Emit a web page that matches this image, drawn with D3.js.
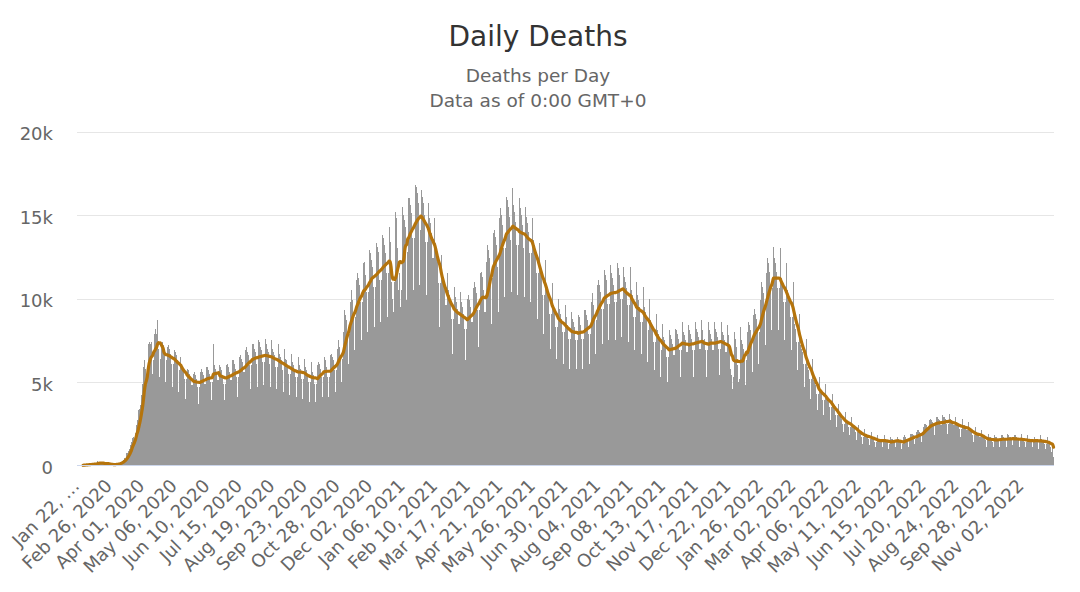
<!DOCTYPE html>
<html><head><meta charset="utf-8">
<script src="https://cdn.jsdelivr.net/npm/d3@7"></script>
<style>body{margin:0;background:#fff} svg{display:block;font-family:"DejaVu Sans",sans-serif}</style>
</head><body><svg id="c" width="1080" height="592"></svg>
<script>
const chartTitle = "Daily Deaths";
const subtitleLines = ["Deaths per Day", "Data as of 0:00 GMT+0"];
const startDate = "2020-01-22";
const tickLabels = ["Jan 22, 2020","Feb 26, 2020","Apr 01, 2020","May 06, 2020","Jun 10, 2020","Jul 15, 2020","Aug 19, 2020","Sep 23, 2020","Oct 28, 2020","Dec 02, 2020","Jan 06, 2021","Feb 10, 2021","Mar 17, 2021","Apr 21, 2021","May 26, 2021","Jun 30, 2021","Aug 04, 2021","Sep 08, 2021","Oct 13, 2021","Nov 17, 2021","Dec 22, 2021","Jan 26, 2022","Mar 02, 2022","Apr 06, 2022","May 11, 2022","Jun 15, 2022","Jul 20, 2022","Aug 24, 2022","Sep 28, 2022","Nov 02, 2022"];
const yTicks = [0, 5000, 10000, 15000, 20000];
const dailyDeaths = [
0,1,8,16,14,26,26,
38,43,46,45,57,64,66,
73,73,86,89,97,108,97,
121,254,143,143,142,106,98,
115,118,109,97,150,71,52,
29,44,37,58,67,73,74,
88,100,105,96,228,210,273,
338,350,448,410,740,740,860,
1010,1200,1380,1650,1690,1610,1930,
2400,2700,2600,3300,3400,3600,4200,
4900,5900,6300,5800,4800,5200,7300,
7400,7300,7400,6300,5500,6300,7900,
8200,7900,8700,7000,5300,6400,7200,
7400,7200,7000,6300,5000,6300,7100,
7200,7000,6700,6100,4700,6100,6900,
6800,6600,6300,5700,4400,5700,6500,
6100,5900,5700,5200,4000,5200,5800,
5700,5500,5300,4800,3700,4800,5500,
5600,5400,5200,4700,3700,4700,5600,
5800,5600,5400,4900,3800,4900,5900,
5900,5700,5500,5000,3900,5000,7300,
6000,5800,5600,5100,4000,5100,6000,
5900,5700,5400,4900,3900,4900,6000,
6100,5900,5600,5100,4000,5100,6300,
6300,6100,5800,5300,4100,5300,6500,
6600,6400,6200,5600,4300,5600,6900,
7100,6800,6600,6000,4600,6000,7300,
7300,7000,6800,6100,4700,6100,7500,
7400,7100,6900,6200,4800,6200,7600,
7300,7000,6800,6100,4700,6100,7500,
7000,6800,6600,5900,4600,5900,7300,
6700,6500,6300,5700,4400,5700,7000,
6400,6300,6000,5500,4200,5500,6700,
6200,6000,5800,5300,4100,5300,6500,
6200,6000,5800,5200,4000,5200,6400,
5900,5700,5500,5000,3800,5000,6200,
5800,5600,5400,4900,3800,4900,6000,
6200,6100,5800,5300,4100,5300,6500,
6300,6100,5900,5300,4100,5300,6600,
6700,6500,6300,5700,4400,5700,7000,
7500,7400,7100,6400,5000,6400,8000,
9300,9000,8700,7900,6100,7900,9800,
10500,10200,9900,8900,6900,8900,11100,
11500,11200,10800,9800,7500,9800,12100,
12200,11400,11400,10400,8000,10400,12900,
12700,12300,11900,10700,8300,10700,13300,
13100,12800,12300,11100,8600,11100,13800,
13600,13200,12700,11500,8900,11500,14300,
13400,11000,9000,10000,9200,11000,15200,
14800,13000,10500,11500,9500,10500,15500,
15000,14700,14300,12800,9900,12800,16000,
16000,15600,15100,13600,10500,13600,16800,
16700,16300,15700,14100,10800,14100,16500,
16100,15700,15000,13400,10200,13400,15700,
14800,14500,13900,12400,9500,12400,14800,
13300,12700,12200,10900,8300,10900,12600,
11500,11200,10700,9600,7300,9600,11500,
10500,10200,9800,8800,6700,8800,10700,
10100,9800,9400,8500,6500,8500,10400,
9800,9500,9100,8200,6300,8200,10000,
10200,9900,9500,8600,6600,8600,10600,
11000,10700,10300,9300,7100,9300,11500,
11600,11300,10500,9200,7100,9200,12200,
13200,12900,12400,11200,8500,11200,13900,
14100,13700,13200,11900,9200,11900,14800,
15400,15000,14400,13000,10100,13000,16100,
15900,15500,14900,13500,10400,13500,16600,
15600,15200,14600,13200,10200,13200,16000,
15400,15000,14400,13000,10100,13000,15500,
14900,14500,14000,12700,9800,12700,14800,
13500,13200,12700,11500,8800,11500,13300,
12100,11800,11300,10200,7900,10200,12300,
10800,10400,10100,9100,7000,9100,10900,
9800,9600,9200,8300,6400,8300,10000,
9400,9100,8800,8000,6100,8000,9600,
8900,8700,8400,7600,5800,7600,9200,
8800,8600,8300,7500,5800,7500,9000,
8900,8700,8400,7600,5800,7600,9300,
9300,9000,8700,7900,6100,7900,9800,
10300,10000,9600,8700,6700,8700,10800,
11100,10800,10400,9400,7300,9400,11700,
11400,11100,10700,9700,7500,9700,12000,
11500,11200,10800,9800,7500,9800,12100,
11800,11400,11000,10000,7700,10000,11900,
11300,11000,10600,9600,7400,9600,11900,
10500,10200,9900,8900,6900,8900,11000,
10200,9900,9500,8600,6700,8600,10700,
9500,9200,8900,8100,6200,8100,10000,
8700,8500,8200,7400,5700,7400,9100,
8100,7900,7600,6900,5300,6900,8500,
7700,7500,7200,6500,5000,6500,8100,
7800,7600,7300,6600,5100,6600,8200,
8100,7900,7600,6900,5300,6900,8600,
8000,7800,7500,6800,5300,6800,8400,
8100,7900,7600,6900,5300,6900,8600,
8200,8000,7700,7000,5400,7000,8700,
8100,7500,7600,6900,5300,6900,8600,
8100,7900,7600,6900,5300,6900,8600,
8200,8000,7700,7000,5400,7000,8600,
8000,7800,7500,6800,5200,6800,8400,
7800,7000,5800,5400,4600,5300,8000,
7600,7100,6000,5000,4600,5200,8300,
7500,7300,7000,6300,4800,6300,8000,
8600,8400,8100,7300,5600,7300,9000,
9400,9100,8800,8000,6100,8000,9900,
11000,10700,10300,9300,7200,9300,11500,
12400,12100,11600,10600,8100,10600,13100,
12400,12100,11600,10600,8100,10600,13000,
11500,11200,10800,9800,7500,9800,12100,
10500,10200,9900,8900,6900,8900,11000,
8700,8500,8200,7400,5700,7400,9100,
7200,7000,6800,6100,4700,6100,7600,
6100,5900,5700,5200,4000,5200,6400,
5100,5000,4800,4300,3300,4300,5300,
4600,4500,4300,3900,3000,3900,4900,
4100,4000,3800,3500,2700,3500,4300,
3500,3400,3300,3000,2300,3000,3700,
3000,2900,2800,2500,2000,2500,3200,
2700,2600,2500,2300,1800,2300,2900,
2300,2300,2200,2000,1500,2000,2400,
2000,2000,1900,1700,1300,1700,2200,
1900,1800,1700,1600,1200,1600,2000,
1700,1700,1600,1400,1100,1400,1800,
1600,1600,1500,1400,1100,1400,1800,
1600,1500,1500,1300,1000,1300,1700,
1600,1600,1500,1400,1100,1400,1700,
1600,1500,1500,1300,1000,1300,1700,
1800,1700,1600,1500,1100,1500,1900,
1900,1900,1800,1600,1300,1600,2000,
2100,2100,2000,1800,1400,1800,2300,
2500,2500,2400,2200,1700,2200,2700,
2800,2700,2600,2400,1800,2400,2900,
2900,2800,2700,2400,1900,2400,3000,
2900,2900,2800,2500,1900,2500,3100,
2800,2700,2600,2400,1800,2400,2900,
2600,2500,2400,2200,1700,2200,2800,
2400,2400,2300,2100,1600,2100,2600,
2100,2100,2000,1800,1400,1800,2300,
2000,1900,1900,1700,1300,1700,2100,
1800,1700,1600,1500,1100,1500,1900,
1700,1700,1600,1400,1100,1400,1800,
1700,1700,1600,1500,1100,1500,1800,
1800,1700,1600,1500,1100,1500,1900,
1800,1700,1700,1500,1200,1500,1800,
1800,1700,1600,1500,1100,1500,1900,
1700,1600,1600,1400,1100,1400,1800,
1600,1600,1500,1400,1100,1400,1700,
1700,1600,1500,1400,1000,1400,1800,
1600,1500,1500,1300,1000,1300,1700,
1500,1400,1300,1100,800,1100,500
];

const svg = d3.select("#c");
const parse = d3.timeParse("%Y-%m-%d"), fmt = d3.timeFormat("%b %d, %Y");
const start = parse(startDate);
const categories = dailyDeaths.map((_, i) => fmt(d3.timeDay.offset(start, i)));
const rows = categories.map((c, i) => ({ c, v: dailyDeaths[i] }));

const x = d3.scaleBand().domain(categories).range([77, 1054]).padding(0);
const y = d3.scaleLinear().domain([0, 20000]).range([465.5, 131.5]);
const bw = x.bandwidth();

// title
svg.append("text").attr("x", 538).attr("y", 46).attr("text-anchor", "middle")
  .attr("font-size", 28).attr("fill", "#333").text(chartTitle);
subtitleLines.forEach((t, i) => {
  svg.append("text").attr("x", 538).attr("y", 82 + i * 25).attr("text-anchor", "middle")
    .attr("font-size", 18.5).attr("fill", "#666").text(t);
});

// grid
svg.append("g").selectAll("line").data(yTicks.filter(v => v > 0)).join("line")
  .attr("x1", 77).attr("x2", 1054)
  .attr("y1", d => Math.round(y(d)) + 0.5).attr("y2", d => Math.round(y(d)) + 0.5)
  .attr("stroke", "#e6e6e6").attr("stroke-width", 1);

// y labels
svg.append("g").selectAll("text").data(yTicks).join("text")
  .attr("x", 53).attr("y", d => y(d) + 8.5).attr("text-anchor", "end")
  .attr("font-size", 18).attr("fill", "#666")
  .text(d => d === 0 ? "0" : (d / 1000) + "k");

// bars
svg.append("g").attr("shape-rendering", "crispEdges")
  .selectAll("rect").data(rows).join("rect")
  .attr("x", d => x(d.c)).attr("width", Math.max(1, bw))
  .attr("y", d => y(d.v)).attr("height", d => y(0) - y(d.v))
  .attr("fill", "#999999");

// moving average (7-day trailing)
const ma = [];
for (let i = 6; i < dailyDeaths.length; i++) {
  ma.push({ c: categories[i], v: d3.mean(dailyDeaths.slice(i - 6, i + 1)) });
}
svg.append("path").datum(ma)
  .attr("d", d3.line().x(d => x(d.c) + bw / 2).y(d => y(d.v)).curve(d3.curveMonotoneX))
  .attr("fill", "none").attr("stroke", "#b5740c").attr("stroke-width", 3.2)
  .attr("stroke-linejoin", "round").attr("stroke-linecap", "round");

// x axis line
svg.append("line").attr("x1", 77).attr("x2", 1054).attr("y1", 465.5).attr("y2", 465.5)
  .attr("stroke", "#ccd6eb").attr("stroke-width", 1);

// x labels
const xl = svg.append("g");
tickLabels.forEach(lab => {
  const cx = x(lab) + bw / 2 + 3, cy = 487;
  const t = xl.append("text").attr("transform", `translate(${cx},${cy}) rotate(-45)`)
    .attr("text-anchor", "end").attr("font-size", 18).attr("fill", "#666").text(lab);
  let s = lab;
  while (cx - t.node().getComputedTextLength() * 0.7071 < 10 && s.length > 1) {
    s = s.slice(0, -1);
    t.text(s.trimEnd() + " …");
  }
});
</script></body></html>
